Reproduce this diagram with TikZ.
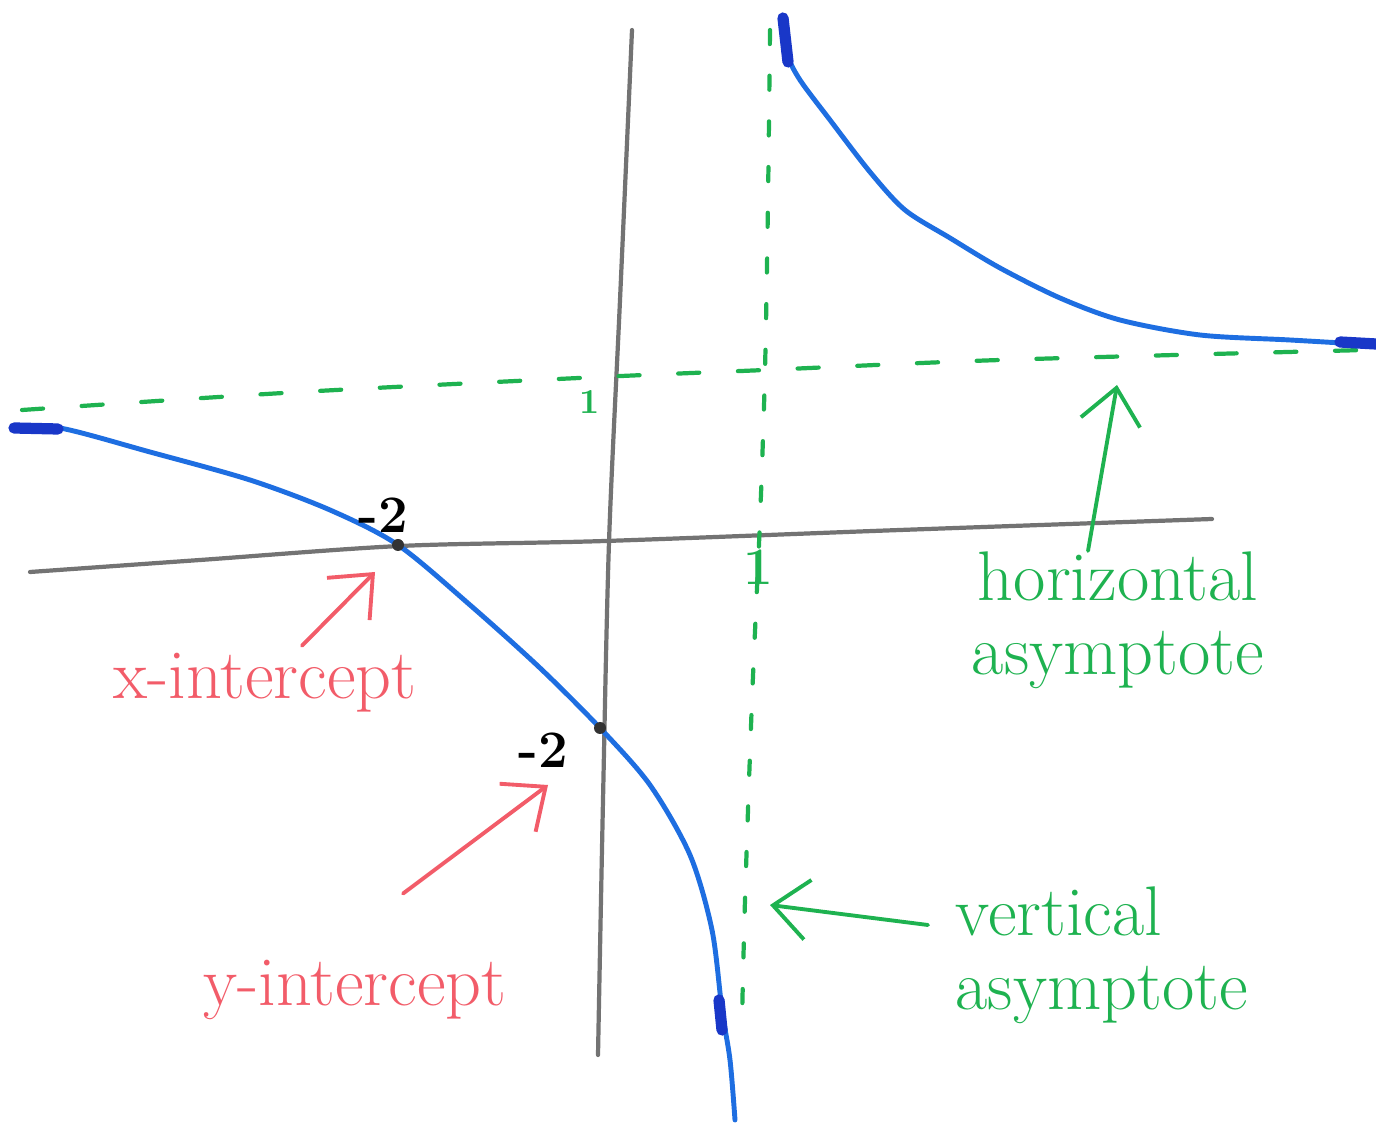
\documentclass[tikz,border=0pt]{standalone}
\usepackage{tikz}
\usetikzlibrary{arrows.meta, positioning}
\definecolor{penblue}{RGB}{30,110,225}
\definecolor{inkblue}{RGB}{25,55,200}
\definecolor{pengreen}{RGB}{30,178,80}
\definecolor{penred}{RGB}{242,92,105}
\definecolor{pencil}{RGB}{115,115,115}
\tikzset{
  axisline/.style  = {pencil, line width=1.2pt, line cap=round},
  asym/.style      = {pengreen, line width=1.2pt, line cap=round, dash pattern=on 6pt off 11pt},
  vasym/.style     = {pengreen, line width=1.2pt, line cap=round, dash pattern=on 4pt off 9pt},
  graphline/.style = {penblue, line width=1.4pt, line cap=round},
  blob/.style      = {inkblue, line width=3.2pt, line cap=round},
  pointer/.style   = {-{Straight Barb[length=3.5mm, width=6mm]}, line width=1.1pt, line cap=round},
  note/.style      = {font=\fontsize{20}{21}\selectfont, inner sep=0pt},
  tick/.style      = {font=\fontsize{15}{15}\selectfont\bfseries, inner sep=0pt},
  dot/.style       = {circle, fill=black!80, minimum size=1.2mm, inner sep=0pt},
}

\begin{document}
\begin{tikzpicture}[x=0.1mm, y=-0.1mm]
  \useasboundingbox (0,0) rectangle (1376,1123);
  % axes
  \draw[axisline] plot[smooth] coordinates {(30,572) (200,560) (400,546) (605,541) (900,530) (1212,519)};
  \draw[axisline] plot[smooth] coordinates {(632,30) (620,300) (609,542) (603,800) (598,1055)};
  % asymptotes
  \draw[asym] plot[smooth] coordinates {(22,410) (300,392) (600,377) (765,370) (1000,360) (1365,350)};
  \draw[vasym] plot[smooth] coordinates {(770,30) (768,200) (765,370) (760,520) (752,700) (745,900) (742,1020)};
  % the two branches
  \draw[graphline] plot[smooth] coordinates {(12,428) (60,428) (150,452) (250,480) (330,510) (398,545)
    (470,605) (540,668) (600,728) (650,785) (690,855) (712,930) (722,1010) (730,1060) (735,1120)};
  \draw[graphline] plot[smooth] coordinates {(785,18) (788,55) (800,80) (830,120) (870,172) (905,210)
    (950,238) (1000,268) (1060,298) (1120,320) (1200,335) (1290,340) (1376,345)};
  \draw[blob] (14,428) -- (58,429);
  \draw[blob] (783,18) -- (788,62);
  \draw[blob] (1340,342) -- (1376,344);
  \draw[blob] (719,1000) -- (722,1030);
  % intercepts and ticks
  \node[dot] (xint) at (398,545) {};
  \node[dot] (yint) at (600,728) {};
  \node[tick] (xtwo) at (383,515) {-2};
  \node[tick] (ytwo) at (543,750) {-2};
  \node[tick, pengreen, font=\fontsize{10}{10}\selectfont\bfseries] (yone) at (590,402) {1};
  \node[tick, pengreen] (xone) at (758,567) {1};
  % labels
  \node[note, penred] (xlbl) at (265,683) {x-intercept};
  \node[note, penred] (ylbl) at (355,990) {y-intercept};
  \node[note, pengreen, align=center] (hlbl) at (1118,620) {horizontal\\asymptote};
  \node[note, pengreen, align=left, anchor=west] (vlbl) at (955,955) {vertical\\asymptote};
  \coordinate (xhead) at (375,572);
  \coordinate (yhead) at (548,785);
  \coordinate (hhead) at (1117,385);
  \coordinate (vhead) at (770,905);
  \draw[pointer, penred, shorten <=1mm] (xlbl) -- (xhead);
  \draw[pointer, penred, shorten <=11mm] ([xshift=-4mm]ylbl.north) -- (yhead);
  \draw[pointer, pengreen] ([xshift=-3mm]hlbl.north) -- (hhead);
  \draw[pointer, pengreen] ([shift={(-2.7mm,3mm)}]vlbl.west) -- (vhead);
\end{tikzpicture}
\end{document}
